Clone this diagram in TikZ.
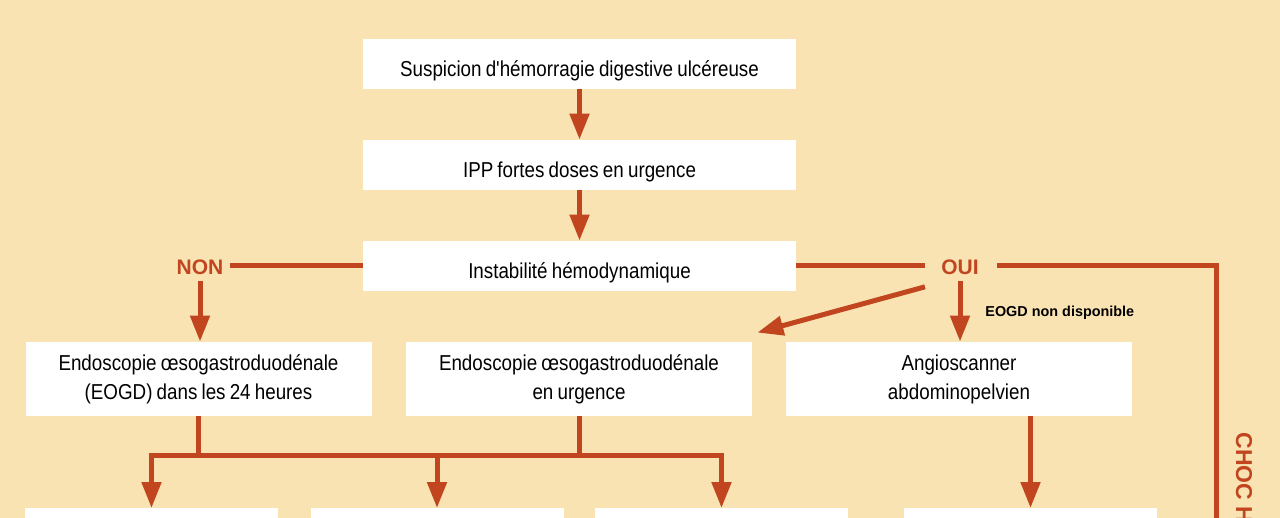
\documentclass[tikz,border=0pt]{standalone}
\usepackage{fontspec}
\setmainfont[FakeStretch=0.87, WordSpace=0.8, Ligatures=TeXOff]{Liberation Sans}
\newfontfamily\etiquette{Liberation Sans}
\usetikzlibrary{arrows.meta}

\definecolor{fond}{HTML}{F9E3B3}
\definecolor{rouille}{HTML}{C1461F}

\tikzstyle{etape} = [rectangle, fill=white, text centered, inner sep=0pt, text height=12.4pt, text depth=0pt, minimum width=216.5pt, minimum height=25pt, font=\fontsize{10.8}{14.5}\selectfont]
\tikzstyle{examen} = [rectangle, fill=white, align=center, inner sep=0pt, minimum width=173pt, minimum height=37pt, font=\fontsize{10.8}{14.5}\selectfont]
\tikzstyle{suite} = [rectangle, fill=white, inner sep=0pt, minimum width=126.5pt, minimum height=40pt, anchor=north]
\tikzstyle{reponse} = [text=rouille, inner sep=3pt, font=\etiquette\bfseries\fontsize{10.5}{12}\selectfont]
\tikzstyle{trait} = [draw=rouille, line width=2.5pt]
\tikzstyle{fleche} = [trait, -{Triangle[width=9.5pt,length=13pt]}]

\begin{document}
\begin{tikzpicture}[x=0.5pt, y=-0.5pt]

    \useasboundingbox (0,0) rectangle (1280,518);
    \clip (0,0) rectangle (1280,518);
    \fill[fond] (0,0) rectangle (1280,518);

    %  nodes
    \node[etape] (S) at (579.5,64) {Suspicion d'hémorragie digestive ulcéreuse};
    \node[etape] (IPP) at (579.5,165) {IPP fortes doses en urgence};
    \node[etape] (INST) at (579.5,266) {Instabilité hémodynamique};

    \node[reponse] (NON) at (200,267) {NON};
    \node[reponse] (OUI) at (960,267) {OUI};

    %-------------------------------------------------------------
    \node[examen] (E24) at (198.5,379) {Endoscopie œsogastroduodénale\\(EOGD) dans les 24 heures};
    \node[examen] (EU) at (579,379) {Endoscopie œsogastroduodénale\\en urgence};
    \node[examen] (ANG) at (959,379) {Angioscanner\\abdominopelvien};
    \node[anchor=west, inner sep=0pt, font=\etiquette\bfseries\fontsize{7.2}{9}\selectfont] (nondispo) at (985,313) {EOGD non disponible};

    %-------------------------------------------------------------
    \node[suite] (B1) at (151.5,508) {};
    \node[suite] (B2) at (437,508) {};
    \node[suite] (B3) at (721.5,508) {};
    \node[suite] (B4) at (1030.5,508) {};

    \node[rotate=-90, anchor=west, inner sep=0pt, text=rouille, font=\etiquette\bfseries\fontsize{11.5}{13}\selectfont] (choc) at (1244,432) {CHOC H};

    \coordinate (barre) at (437,455);
    \coordinate (bas) at (1216,530);

    %  connectors
    \draw[fleche] (S) -- (IPP);
    \draw[fleche] (IPP) -- (INST);
    \draw[trait] (INST.west) -- (INST.west -| NON.east);
    \draw[trait] (INST.east) -- ([xshift=-5pt]INST.east -| OUI.west);
    \draw[trait] ([xshift=6pt]INST.east -| OUI.east) -| (bas);

    \draw[fleche] (NON.south) -- (NON.south |- E24.north);
    \draw[fleche] ([xshift=-5pt,yshift=-3pt]OUI.south west) -- ([xshift=2.5pt,yshift=4.5pt]EU.north east);
    \draw[fleche] (OUI.south) -- (OUI.south |- ANG.north);

    \draw[trait] (E24.south) -- (E24.south |- barre);
    \draw[trait] (EU.south) -- (EU.south |- barre);
    \draw[trait, line cap=rect] (B1.north |- barre) -- (B3.north |- barre);
    \draw[fleche] (B1.north |- barre) -- (B1.north);
    \draw[fleche] (B2.north |- barre) -- (B2.north);
    \draw[fleche] (B3.north |- barre) -- (B3.north);
    \draw[fleche] (B4.north |- ANG.south) -- (B4.north);

\end{tikzpicture}
\end{document}
